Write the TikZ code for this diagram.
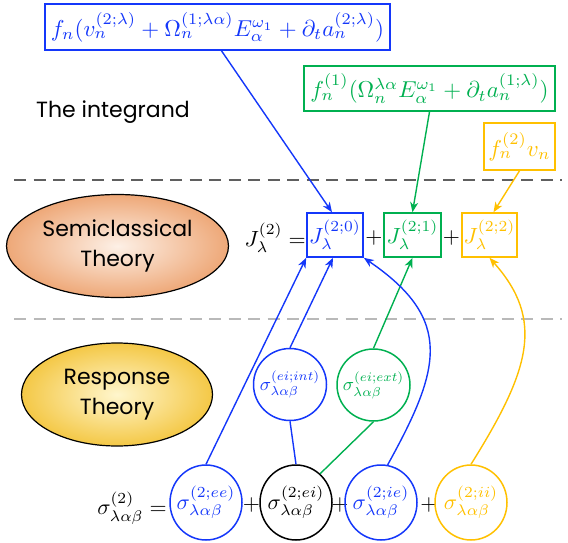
\documentclass[tikz,border=0pt]{standalone}
\usepackage{fontspec}
\usepackage{graphicx}
\newfontfamily\gfont{Poppins}
\usetikzlibrary{arrows.meta,shapes.geometric,calc}
\newcommand{\mth}[1]{\scalebox{2.2}{$#1$}}
\newcommand{\mtop}[1]{\scalebox{2.3}{$#1$}}
\newcommand{\mcirc}[1]{\makebox[0pt]{\scalebox{2.2}{$#1$}}}
\newcommand{\mcircs}[1]{\makebox[0pt]{\scalebox{1.85}{$#1$}}}
\definecolor{cblue}{RGB}{20,55,250}
\definecolor{cgreen}{RGB}{0,176,80}
\definecolor{cyel}{RGB}{255,192,0}
\definecolor{dgray}{RGB}{95,95,95}
\definecolor{lgray}{RGB}{185,185,185}
\definecolor{orgout}{RGB}{238,168,120}
\definecolor{orgin}{RGB}{253,240,230}
\definecolor{yelout}{RGB}{244,200,70}
\definecolor{yelin}{RGB}{255,246,205}
\begin{document}
\begin{tikzpicture}[x=1pt,y=-1pt,
  tbox/.style={draw, line width=1.6pt, inner sep=0pt},
  circ/.style={ellipse, draw, line width=1.5pt, inner sep=0pt, minimum width=72pt, minimum height=75pt},
  mcirc/.style={ellipse, draw, line width=1.5pt, inner sep=0pt, minimum width=73pt, minimum height=72pt},
  conn/.style={line width=1.4pt},
  arr/.style={conn, -{Stealth[length=10pt,width=8pt,inset=3pt]}},
  theory/.style={ellipse, draw=black, line width=1.2pt, minimum width=191pt, minimum height=103pt, align=center, font={\gfont\fontsize{22}{30}\selectfont}},
  sepline/.style={line width=2.4pt, dash pattern=on 12pt off 7.5pt},
]
\useasboundingbox (0,0) rectangle (568,542);

% separators
\draw[sepline, dgray] (14,180) -- (562,180);
\draw[sepline, lgray] (14,319) -- (562,319);

% integrand boxes
\node[tbox, cblue, minimum width=345pt, minimum height=46pt] (top) at (217.5,27) {\mtop{f_n(v_n^{(2;\lambda)} + \Omega_n^{(1;\lambda\alpha)}E_\alpha^{\omega_1} + \partial_t a_n^{(2;\lambda)})}};
\node[tbox, cgreen, minimum width=251pt, minimum height=45pt] (gbox) at (429.5,88.5) {\mtop{f_n^{(1)}(\Omega_n^{\lambda\alpha}E_\alpha^{\omega_1} + \partial_t a_n^{(1;\lambda)})}};
\node[tbox, cyel, minimum width=71pt, minimum height=47pt] (ybox) at (519.5,146.5) {\mtop{f_n^{(2)}v_n}};

\node[font={\gfont\fontsize{22}{26}\selectfont}] (integ) at (113,112) {The integrand};

% theory ellipses
\node[theory, shading=radial, inner color=orgin, outer color=orgout] (semi) at (117.5,246) {Semiclassical\\Theory};
\node[theory, shading=radial, inner color=yelin, outer color=yelout] (resp) at (117,394.5) {Response\\Theory};

% J row
\node[anchor=east, inner sep=0pt] (Jlhs) at (306,238) {\mth{J_\lambda^{(2)} =}};
\node[tbox, cblue, minimum width=56pt, minimum height=44pt] (J0) at (335,235) {\mth{J_\lambda^{(2;0)}}};
\node (pj1) at (374,238) {\mth{+}};
\node[tbox, cgreen, minimum width=57pt, minimum height=44pt] (J1) at (412.5,235) {\mth{J_\lambda^{(2;1)}}};
\node (pj2) at (451.5,238) {\mth{+}};
\node[tbox, cyel, minimum width=55pt, minimum height=44pt] (J2) at (489.5,235) {\mth{J_\lambda^{(2;2)}}};

% sigma row
\node[anchor=east, inner sep=0pt] (slhs) at (167,508) {\mth{\sigma_{\lambda\alpha\beta}^{(2)} =}};
\node[circ, cblue] (c1) at (206,502.5) {\mcirc{\sigma_{\lambda\alpha\beta}^{(2;ee)}}};
\node (ps1) at (251.5,505) {\mth{+}};
\node[circ, black] (c2) at (296,502.5) {\mcirc{\sigma_{\lambda\alpha\beta}^{(2;ei)}}};
\node (ps2) at (340,505) {\mth{+}};
\node[circ, cblue] (c3) at (381,502.5) {\mcirc{\sigma_{\lambda\alpha\beta}^{(2;ie)}}};
\node (ps3) at (429,505) {\mth{+}};
\node[circ, cyel] (c4) at (471,502.5) {\mcirc{\sigma_{\lambda\alpha\beta}^{(2;ii)}}};

\node[mcirc, cblue] (cint) at (290,384.5) {\mcircs{\sigma_{\lambda\alpha\beta}^{(ei;int)}}};
\node[mcirc, cgreen] (cext) at (373.5,385) {\mcircs{\sigma_{\lambda\alpha\beta}^{(ei;ext)}}};

% connectors top
\draw[arr, cblue] ($(top.south)+(4,0)$) -- ($(J0.north)+(-3,0)$);
\draw[arr, cgreen] (gbox.south) -- (J1.north);
\draw[arr, cyel] (ybox.south) -- ($(J2.north)+(4,0)$);

% connectors bottom
\draw[arr, cblue] (c1.north) -- (J0.south west);
\draw[arr, cblue] (cint.north) -- ($(J0.south)+(-2,0)$);
\draw[conn, cblue] (cint.south) -- (c2.north);
\draw[conn, cgreen] (c2.50) -- (cext.south);
\draw[arr, cgreen] (cext.north) -- (J1.south);
\draw[arr, cblue] (c3.80) .. controls (440,370) and (455,320) .. (J0.south east);
\draw[arr, cyel] (c4.north) .. controls (530,370) and (545,320) .. (J2.south);
\end{tikzpicture}
\end{document}
